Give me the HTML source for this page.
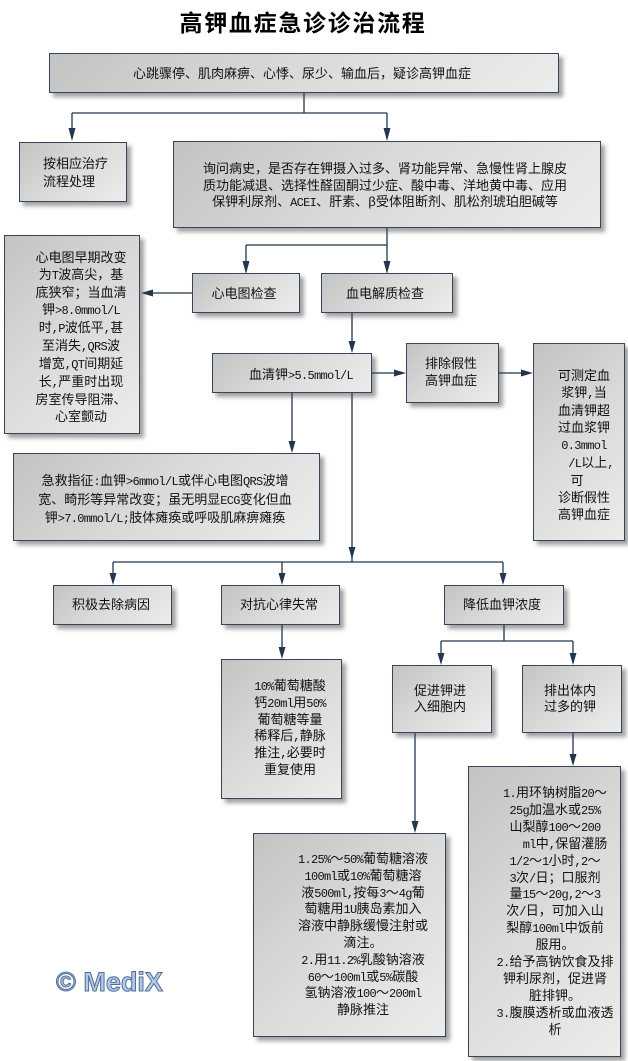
<!DOCTYPE html>
<html><head><meta charset="utf-8">
<style>
*{margin:0;padding:0;box-sizing:border-box}
html,body{width:628px;height:1061px;background:#fff;overflow:hidden}
body{position:relative;font-family:"Liberation Mono","Noto Sans CJK SC",sans-serif;font-size:13px;color:#111}
.b{position:absolute;border:1px solid #34465c;background:linear-gradient(135deg,#c3c3c3 0%,#d9d9d9 45%,#ececec 100%);box-shadow:4px 4px 4px rgba(70,70,70,.5)}
.t{position:absolute;width:240px;text-align:center;line-height:17px;white-space:nowrap}
.e{font-size:12px;letter-spacing:-0.7px}
svg{position:absolute;left:0;top:0}
.title{position:absolute;left:0;width:606px;top:8px;text-align:center;font-family:"Liberation Sans","Noto Sans CJK SC",sans-serif;font-weight:bold;font-size:23px;letter-spacing:1.7px;line-height:30px;color:#000}
.wm{position:absolute;left:56px;top:964px;font-family:"Liberation Sans",sans-serif;font-weight:bold;font-size:27px;line-height:36px;color:#b4c8e4;-webkit-text-stroke:1px #4f6f9c}
</style></head><body>

<div class="title">高钾血症急诊诊治流程</div>

<svg width="628" height="1061">
<g stroke="#22364f" stroke-width="1.3" fill="none">
<path d="M304 93V113M72 113H387M72 113V128M387 113V128"/>
<path d="M387 228V245M246 245H387M246 245V261M387 245V261"/>
<path d="M192 293H153"/>
<path d="M352 313V341"/>
<path d="M372 373H394M499 373H521"/>
<path d="M292 393V441"/>
<path d="M352 393V562M113 562H503M113 562V573M282 562V573M503 562V573"/>
<path d="M282 625V647"/>
<path d="M504 625V641M441 641H573M441 641V653M573 641V653"/>
<path d="M415 733V821"/>
<path d="M573 733V754"/>
</g>
<g fill="#22364f">
<polygon points="68.5,128 75.5,128 72,141"/>
<polygon points="383.5,128 390.5,128 387,141"/>
<polygon points="242.5,261 249.5,261 246,274"/>
<polygon points="383.5,261 390.5,261 387,274"/>
<polygon points="153,289.5 153,296.5 141,293"/>
<polygon points="348.5,341 355.5,341 352,353"/>
<polygon points="394,369.5 394,376.5 406,373"/>
<polygon points="521,369.5 521,376.5 533,373"/>
<polygon points="288.5,441 295.5,441 292,453"/>
<polygon points="348.5,547 355.5,547 352,559"/>
<polygon points="109.5,573 116.5,573 113,585"/>
<polygon points="278.5,573 285.5,573 282,585"/>
<polygon points="499.5,573 506.5,573 503,585"/>
<polygon points="278.5,647 285.5,647 282,659"/>
<polygon points="437.5,653 444.5,653 441,665"/>
<polygon points="569.5,653 576.5,653 573,665"/>
<polygon points="411.5,821 418.5,821 415,833"/>
<polygon points="569.5,754 576.5,754 573,766"/>
</g>
</svg>

<!-- boxes -->
<div class="b" style="left:49px;top:53px;width:510px;height:40px"></div>
<div class="b" style="left:19px;top:142px;width:108px;height:60px"></div>
<div class="b" style="left:173px;top:141px;width:428px;height:87px"></div>
<div class="b" style="left:4px;top:235px;width:136px;height:199px"></div>
<div class="b" style="left:192px;top:273px;width:108px;height:40px"></div>
<div class="b" style="left:321px;top:273px;width:132px;height:40px"></div>
<div class="b" style="left:212px;top:353px;width:160px;height:40px"></div>
<div class="b" style="left:406px;top:343px;width:93px;height:60px"></div>
<div class="b" style="left:533px;top:343px;width:92px;height:198px"></div>
<div class="b" style="left:13px;top:453px;width:307px;height:88px"></div>
<div class="b" style="left:53px;top:585px;width:119px;height:40px"></div>
<div class="b" style="left:221px;top:585px;width:119px;height:40px"></div>
<div class="b" style="left:444px;top:585px;width:120px;height:40px"></div>
<div class="b" style="left:221px;top:659px;width:121px;height:140px"></div>
<div class="b" style="left:392px;top:665px;width:100px;height:68px"></div>
<div class="b" style="left:522px;top:665px;width:100px;height:68px"></div>
<div class="b" style="left:253px;top:833px;width:193px;height:204px"></div>
<div class="b" style="left:468px;top:766px;width:153px;height:291px"></div>

<!-- texts -->
<div class="t" style="left:62px;width:480px;top:66px">心跳骤停、肌肉麻痹、心悸、尿少、输血后，疑诊高钾血症</div>
<div class="t" style="left:43px;width:80px;text-align:left;top:156px;line-height:18px">按相应治疗<br>流程处理</div>
<div class="t" style="left:185px;width:400px;top:162px;line-height:16.5px">询问病史，是否存在钾摄入过多、肾功能异常、急慢性肾上腺皮<br>质功能减退、选择性醛固酮过少症、酸中毒、洋地黄中毒、应用<br>保钾利尿剂、<span class="e">ACEI</span>、肝素、β受体阻断剂、肌松剂琥珀胆碱等</div>
<div class="t" style="left:-39px;width:240px;top:250px">心电图早期改变<br>为<span class="e">T</span>波高尖，基<br>底狭窄；当血清<br>钾<span class="e">&gt;8.0mmol/L</span><br>时<span class="e">,P</span>波低平<span class="e">,</span>甚<br>至消失<span class="e">,QRS</span>波<br>增宽<span class="e">,QT</span>间期延<br>长<span class="e">,</span>严重时出现<br>房室传导阻滞、<br>心室颤动</div>
<div class="t" style="left:124px;top:286px">心电图检查</div>
<div class="t" style="left:265px;top:286px">血电解质检查</div>
<div class="t" style="left:181px;top:367px">血清钾<span class="e">&gt;5.5mmol/L</span></div>
<div class="t" style="left:331px;top:356px">排除假性<br>高钾血症</div>
<div class="t" style="left:464px;top:368px">可测定血<br>浆钾<span class="e">,</span>当<br>血清钾超<br>过血浆钾<br><span class="e">0.3mmol</span><br><span style="position:relative;left:7px"><span class="e">/L</span>以上<span class="e">,</span></span><br><span style="position:relative;left:-7px">可</span><br>诊断假性<br>高钾血症</div>
<div class="t" style="left:-15px;width:360px;top:473px;line-height:17.5px">急救指征<span class="e">:</span>血钾<span class="e">&gt;6mmol/L</span>或伴心电图<span class="e">QRS</span>波增<br>宽、畸形等异常改变；虽无明显<span class="e">ECG</span>变化但血<br>钾<span class="e">&gt;7.0mmol/L;</span>肢体瘫痪或呼吸肌麻痹瘫痪</div>
<div class="t" style="left:-9px;top:597px">积极去除病因</div>
<div class="t" style="left:159px;top:597px">对抗心律失常</div>
<div class="t" style="left:382px;top:597px">降低血钾浓度</div>
<div class="t" style="left:170px;top:679px;line-height:16.8px"><span class="e">10%</span>葡萄糖酸<br>钙<span class="e">20ml</span>用<span class="e">50%</span><br>葡萄糖等量<br>稀释后<span class="e">,</span>静脉<br>推注<span class="e">,</span>必要时<br>重复使用</div>
<div class="t" style="left:320px;top:684px;line-height:16px">促进钾进<br>入细胞内</div>
<div class="t" style="left:450px;top:684px;line-height:16px">排出体内<br>过多的钾</div>
<div class="t" style="left:243px;top:852px;line-height:16.8px"><span class="e">1.25%</span>～<span class="e">50%</span>葡萄糖溶液<br><span class="e">100ml</span>或<span class="e">10%</span>葡萄糖溶<br>液<span class="e">500ml,</span>按每<span class="e">3</span>～<span class="e">4g</span>葡<br>萄糖用<span class="e">1U</span>胰岛素加入<br>溶液中静脉缓慢注射或<br>滴注。<br><span class="e">2.</span>用<span class="e">11.2%</span>乳酸钠溶液<br><span class="e">60</span>～<span class="e">100ml</span>或<span class="e">5%</span>碳酸<br>氢钠溶液<span class="e">100</span>～<span class="e">200ml</span><br>静脉推注</div>
<div class="t" style="left:435px;top:786px;line-height:16.9px"><span class="e">1.</span>用环钠树脂<span class="e">20</span>～<br><span class="e">25g</span>加温水或<span class="e">25%</span><br>山梨醇<span class="e">100</span>～<span class="e">200</span><br><span style="position:relative;left:10px"><span class="e">ml</span>中<span class="e">,</span>保留灌肠</span><br><span class="e">1/2</span>～<span class="e">1</span>小时<span class="e">,2</span>～<br><span class="e">3</span>次<span class="e">/</span>日；口服剂<br>量<span class="e">15</span>～<span class="e">20g,2</span>～<span class="e">3</span><br>次<span class="e">/</span>日，可加入山<br>梨醇<span class="e">100ml</span>中饭前<br>服用。<br><span class="e">2.</span>给予高钠饮食及排<br>钾利尿剂，促进肾<br>脏排钾。<br><span class="e">3.</span>腹膜透析或血液透<br>析</div>

<div class="wm">© MediX</div>
</body></html>
